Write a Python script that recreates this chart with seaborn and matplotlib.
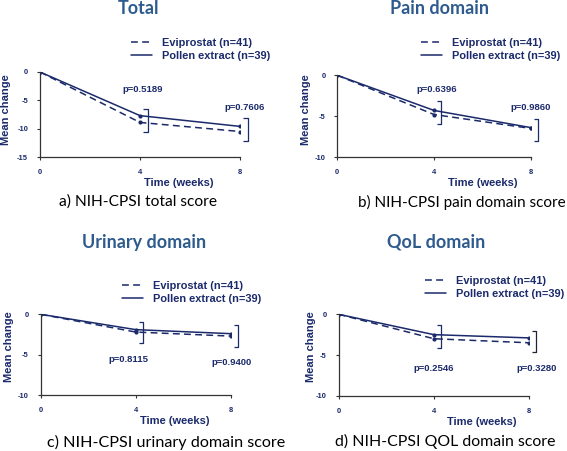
import matplotlib
matplotlib.use("Agg")
import matplotlib.pyplot as plt
import seaborn as sns
import pandas as pd
from matplotlib.lines import Line2D

sns.set_style("white")
plt.rcParams['axes.unicode_minus'] = False

W, H = 567, 451
NAVY = '#1B2A6B'
TBLUE = '#2E5B8E'

weeks = [0, 4, 8]
groups = ['Eviprostat (n=41)', 'Pollen extract (n=39)']
titles = ['Total', 'Pain domain', 'Urinary domain', 'QoL domain']
captions = ['a) NIH-CPSI total score', 'b) NIH-CPSI pain domain score',
            'c) NIH-CPSI urinary domain score', 'd) NIH-CPSI QOL domain score']

evip_total = [0, -8.9, -10.5]
pollen_total = [0, -7.7, -9.6]
evip_pain = [0, -4.8, -6.5]
pollen_pain = [0, -4.3, -6.4]
evip_urinary = [0, -2.2, -2.7]
pollen_urinary = [0, -1.9, -2.4]
evip_qol = [0, -3.0, -3.5]
pollen_qol = [0, -2.5, -2.9]

pvals_total = ['p=0.5189', 'p=0.7606']
pvals_pain = ['p=0.6396', 'p=0.9860']
pvals_urinary = ['p=0.8115', 'p=0.9400']
pvals_qol = ['p=0.2546', 'p=0.3280']

# bracket ranges (top, bottom) at week 4 and week 8
brk_total = [(-6.5, -10.6), (-8.1, -12.2)]
brk_pain = [(-3.2, -6.0), (-5.4, -8.0)]
brk_urinary = [(-0.9, -3.5), (-1.3, -4.0)]
brk_qol = [(-1.3, -4.1), (-2.0, -4.6)]

ymins = [-15, -10, -10, -10]

panels = [
    dict(evip=evip_total, pollen=pollen_total, p=pvals_total, brk=brk_total,
         box=(40, 240, 72, 157), ppos=[(4.12, -3.0), (8.2, -6.35)],
         title=(138, 13.5), leg=(131, 38), ylab=(6, 110), xlab=(179, 183), cap=(138, 202),
         capsize=11.2),
    dict(evip=evip_pain, pollen=pollen_pain, p=pvals_pain, brk=brk_pain,
         box=(337.3, 530.7, 75.3, 157), ppos=[(4.13, -1.68), (8.0, -4.0)],
         title=(440, 13.5), leg=(421, 38), ylab=(306, 110), xlab=(483, 183), cap=(462, 202),
         capsize=11.0),
    dict(evip=evip_urinary, pollen=pollen_urinary, p=pvals_urinary, brk=brk_urinary,
         box=(40.7, 230.7, 314.3, 395), ppos=[(3.68, -5.54), (8.05, -6.0)],
         title=(144, 248.3), leg=(122, 281), ylab=(9, 347), xlab=(175, 421), cap=(166, 442),
         capsize=11.6),
    dict(evip=evip_qol, pollen=pollen_qol, p=pvals_qol, brk=brk_qol,
         box=(338.7, 529, 314.3, 395.7), ppos=[(4.0, -6.63), (8.33, -6.63)],
         title=(436, 247.7), leg=(425, 276), ylab=(311, 347), xlab=(482, 422), cap=(445, 441),
         capsize=11.4),
]

fig = plt.figure(figsize=(W / 100, H / 100), dpi=100)

def fx(x):
    return x / W

def fy(y):
    return 1 - y / H

tick_font = dict(family='Liberation Sans', weight='bold', size=5.4)

for i, pnl in enumerate(panels):
    l, r, t, b = pnl['box']
    ax = fig.add_axes([fx(l), fy(b), (r - l) / W, (b - t) / H])
    df = pd.DataFrame({
        'week': weeks * 2,
        'change': pnl['evip'] + pnl['pollen'],
        'group': [groups[0]] * 3 + [groups[1]] * 3,
    })
    sns.lineplot(data=df, x='week', y='change', style='group', ax=ax,
                 color=NAVY, dashes={groups[0]: (4.5, 2.8), groups[1]: ''},
                 markers={groups[0]: 'o', groups[1]: 'o'}, markersize=3,
                 markeredgewidth=0, linewidth=1.1, legend=False)
    ax.set_xlim(0, 8)
    ax.set_ylim(ymins[i], 0)
    ax.set_xticks(weeks)
    ax.set_yticks(list(range(ymins[i], 1, 5)))
    ax.set_xticklabels([str(w) for w in weeks], fontdict=tick_font, color=NAVY)
    ax.set_yticklabels([str(v) for v in range(ymins[i], 1, 5)], fontdict=tick_font, color=NAVY)
    ax.tick_params(axis='both', length=2.5, width=0.8, colors='#333333',
                   labelcolor=NAVY, bottom=True, left=True)
    ax.tick_params(axis='x', pad=6)
    ax.tick_params(axis='y', pad=6)
    for s in ['top', 'right']:
        ax.spines[s].set_visible(False)
    for s in ['left', 'bottom']:
        ax.spines[s].set_color('#333333')
        ax.spines[s].set_linewidth(0.9)
    ax.set_xlabel('')
    ax.set_ylabel('')
    ax.patch.set_alpha(0)

    # significance brackets
    for (top, bot), xw in zip(pnl['brk'], weeks[1:]):
        xb = xw + 0.3
        col = '#222233' if (i == 3 and xw == 8) else NAVY
        ax.plot([xb - 0.17, xb, xb, xb - 0.17], [top, top, bot, bot],
                color=col, lw=0.9, clip_on=False, solid_capstyle='butt')
    for txt, (px, py) in zip(pnl['p'], pnl['ppos']):
        ax.text(px, py, txt, ha='center', va='center', color=NAVY,
                family='Liberation Sans', weight='bold', size=6.8, clip_on=False)

    # legend
    handles = [Line2D([], [], color=NAVY, lw=1.1, ls=(0, (4.5, 2.8))),
               Line2D([], [], color=NAVY, lw=1.1)]
    lx, ly = pnl['leg']
    ax.legend(handles, groups, loc='upper left', bbox_to_anchor=(fx(lx), fy(ly)),
              bbox_transform=fig.transFigure, frameon=False, borderpad=0,
              borderaxespad=0, handlelength=1.9, handletextpad=0.9,
              labelspacing=0.3, labelcolor=NAVY,
              prop=dict(family='Liberation Sans', weight='bold', size=7.9))

    fig.text(fx(pnl['title'][0]), fy(pnl['title'][1]), titles[i], ha='center', va='baseline',
             color=TBLUE, family='Lato', weight='bold', size=13)
    fig.text(fx(pnl['ylab'][0]), fy(pnl['ylab'][1]), 'Mean change', rotation=90,
             ha='center', va='center', color=NAVY, family='Liberation Sans',
             weight='bold', size=8)
    fig.text(fx(pnl['xlab'][0]), fy(pnl['xlab'][1]), 'Time (weeks)', ha='center',
             va='center', color=NAVY, family='Liberation Sans', weight='bold', size=8)
    fig.text(fx(pnl['cap'][0]), fy(pnl['cap'][1]), captions[i], ha='center', va='center',
             color='black', family='Lato', size=pnl['capsize'])

fig.savefig('out.png', dpi=100)
